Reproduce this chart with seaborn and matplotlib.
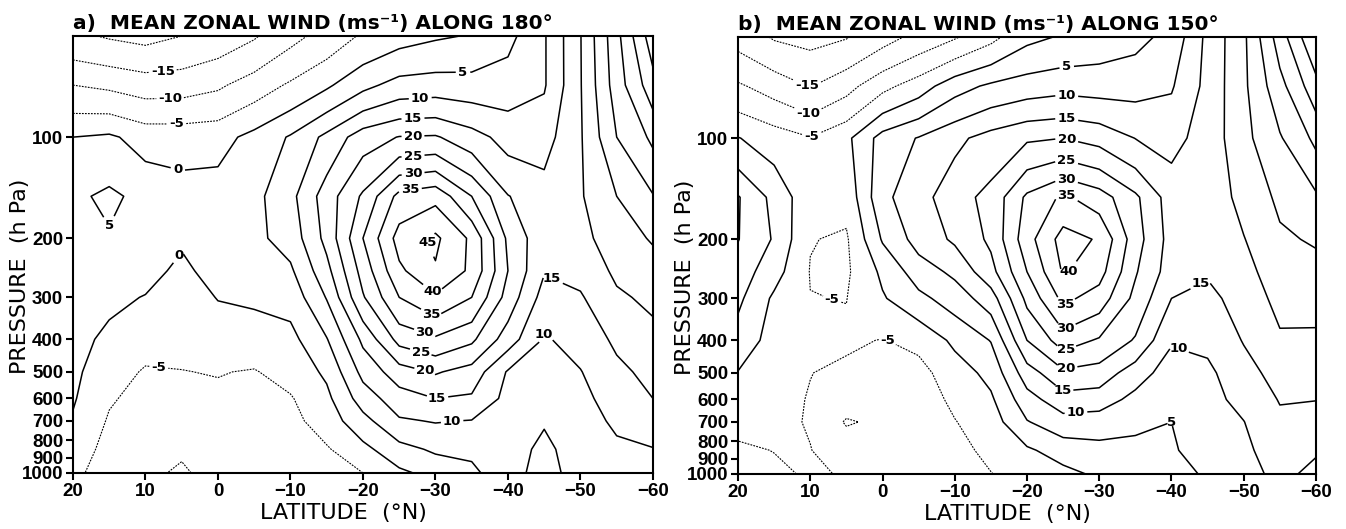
"""Mean zonal wind cross-sections (two panels) redrawn with seaborn/matplotlib."""
import numpy as np
import matplotlib
matplotlib.use("Agg")
import matplotlib.pyplot as plt
from matplotlib.ticker import FixedLocator, FixedFormatter, NullLocator
import seaborn as sns

# grid: latitude columns, pressure rows (hPa)
lats = [20, 15, 10, 5, 0, -5, -10, -15, -20, -25, -30, -35, -40, -45, -50, -55, -60]
levels_hpa = [50, 70, 100, 150, 200, 250, 300, 400, 500, 600, 700, 850, 1000]

# zonal wind (m/s) along 180 deg, one row per pressure level
wind_180 = [
    [-19, -20.5, -21.5, -20, -18, -15.5, -11.5, -8.2, -4.3, -2, -0.6, 0.3, 3.5, 9.5, 19.8, 33.5, 48],
    [-10, -11, -12.4, -12.2, -10.8, -7.7, -4.3, -0.8, 3.6, 6.8, 7.3, 7, 7.4, 9.5, 19.7, 32.5, 43],
    [0, 0.8, -2, -2.1, -1.8, 1.5, 5.5, 11.3, 17.7, 20.2, 20.5, 17, 13.1, 13, 19.5, 30, 36],
    [4, 6, 3.5, 2, 2.2, 3.6, 8.5, 17.5, 25.8, 36.6, 38.5, 30, 20.2, 17, 19.5, 25, 29.7],
    [4.3, 4.5, 3, 0.6, 2.5, 3.8, 7, 16.5, 30, 42, 46, 39, 24, 16.5, 18.5, 22.7, 25.5],
    [3, 2.5, 1.5, -1, 1.8, 3, 4.2, 13.4, 27, 39, 44.5, 39, 25, 15.3, 16.5, 21, 23],
    [2.5, 1, -0.2, -2.3, 0.2, 0.8, 1.8, 10.3, 24.5, 35, 39.2, 35, 23, 13, 14.5, 19.2, 21.1],
    [1.5, -1, -3, -3.8, -2.6, -2.3, -1.5, 4.7, 16.1, 26.7, 29.2, 26, 17.5, 9.5, 11.8, 16, 18.5],
    [1, -2.8, -5.5, -5.1, -4.8, -5.3, -3.2, 0.9, 11.5, 17.7, 20.5, 18, 9.5, 9.2, 9.8, 13.8, 16.5],
    [0.5, -4.5, -6.5, -6, -5.8, -6.2, -5.4, -1.2, 7.4, 12.8, 15, 14.3, 8.5, 9, 8.8, 12, 15],
    [-0.5, -5.5, -7, -6.5, -6.2, -6.5, -6.5, -2.6, 3.3, 9.4, 10.3, 9.8, 8.5, 9.7, 8.3, 10.7, 12.7],
    [-2.5, -6.5, -8, -9, -6.7, -6.8, -6.5, -5.5, -1.4, 3.3, 5.8, 6.2, 8.5, 10.8, 8.3, 9.3, 9.8],
    [-4, -7, -8.5, -11, -7.2, -7, -6.5, -6, -5, -1, 1.6, 3.8, 8.5, 11.5, 8.3, 9, 8.5],
]

# zonal wind (m/s) along 150 deg
wind_150 = [
    [-17, -20.5, -21.5, -20.3, -17, -13.5, -10.5, -6.5, -1.3, 0.5, 2, 3.5, 6.5, 16.3, 24, 37.5, 50],
    [-9.3, -12.2, -15.2, -11.8, -6.5, -2.5, 3, 5.9, 7.4, 8.3, 7.9, 8.2, 9.5, 16.5, 24, 33.3, 43.2],
    [0.2, -2.4, -4.7, -1.2, 7, 10.3, 13.8, 16.9, 19.3, 20, 18.3, 14.9, 13.5, 17, 23.5, 29.5, 36.2],
    [10.4, 3.5, -3.5, -3.5, 8.8, 13, 18, 21.5, 31, 35.9, 32.4, 26, 17.5, 17, 21.5, 26, 29.2],
    [10.2, 4.5, -4.8, -5.6, 5.5, 12, 15.8, 21, 33, 42, 39.5, 27.2, 18, 17, 19.8, 24.2, 25.6],
    [7.7, 2, -5.2, -5.8, 1, 7.5, 11.1, 18.3, 30, 40.5, 37, 25.5, 17.5, 15.5, 18.5, 22.5, 23.3],
    [6.1, -0.9, -4.9, -5.1, -0.5, 3.7, 7.3, 12.6, 26.3, 36.3, 32.7, 23.6, 15, 13.7, 17, 21.5, 21.8],
    [2.8, -1.8, -4.3, -4.2, -5.2, -3.8, 1.1, 5.2, 20, 27.5, 24.4, 19.5, 10.5, 11.1, 15.3, 19.3, 19.1],
    [-0.2, -2.8, -4.9, -6, -7, -6.5, -2.5, 1.5, 12.7, 18.9, 17.9, 12.4, 7.5, 9, 13.1, 17, 16.8],
    [-2.1, -3.3, -5.3, -7.5, -8.5, -7.5, -4, -0.8, 8, 13, 12.5, 8.5, 6.5, 8.5, 11.4, 15.3, 15.1],
    [-3.7, -4, -5.3, -10.5, -9, -8, -5.2, -2.4, 4.7, 8, 7.5, 6, 5, 8, 9.9, 14, 13.3],
    [-5.7, -4.9, -4.9, -7, -8, -7.5, -6, -4.2, -0.8, 2.3, 3.5, 3.8, 4.5, 7, 9, 12.5, 10.6],
    [-7, -5.8, -4.5, -5.3, -7, -7, -6.5, -5.1, -3.5, -1.5, 0.9, 2.2, 3.6, 5.5, 8, 11.5, 8.5],
]

contour_levels = list(range(-25, 55, 5))
pressure_ticks = [100, 200, 300, 400, 500, 600, 700, 800, 900, 1000]
lat_ticks = [20, 10, 0, -10, -20, -30, -40, -50, -60]

# where the inline contour labels sit (lat, hPa)
label_spots_180 = [
    (7.6, 66), (6.6, 77.6), (5.7, 92), (5.5, 119.5), (14.5, 193), (6.3, 212), (8, 468),
    (-33.8, 64.5), (-27.9, 76), (-26.9, 86.6), (-26.9, 98), (-26.9, 109), (-26.9, 123),
    (-26.5, 136), (-29, 205), (-29.5, 291), (-29.2, 343), (-28.3, 391), (-27.6, 452),
    (-28.3, 507), (-30.2, 598), (-32.4, 710), (-46.8, 235), (-45.4, 367),
]
label_spots_150 = [
    (10.4, 68), (10.3, 81), (9.8, 95), (7.3, 320), (-1, 394),
    (-25.5, 62), (-25.5, 74.5), (-25.5, 87), (-25.5, 100), (-25.5, 114), (-25.5, 129),
    (-25.5, 145), (-26, 257), (-25.4, 318), (-25.4, 372), (-25.4, 428), (-25.4, 483),
    (-25, 563), (-26.8, 659), (-40.2, 704), (-43.5, 251), (-41.9, 391),
]

sns.set_style("ticks")
plt.rcParams["font.family"] = ["DejaVu Sans"]
plt.rcParams["axes.linewidth"] = 1.5
plt.rcParams["axes.edgecolor"] = "black"
plt.rcParams["text.color"] = "black"
plt.rcParams["axes.labelcolor"] = "black"
plt.rcParams["xtick.color"] = "black"
plt.rcParams["ytick.color"] = "black"


def draw_panel(ax, wind, title, spots):
    u = np.array(wind, dtype=float)
    widths = [0.8 if lv < 0 else 1.1 for lv in contour_levels]
    cs = ax.contour(lats, levels_hpa, u, levels=contour_levels, colors="black",
                    linewidths=widths, negative_linestyles=(0, (1.6, 1.1)))
    texts = ax.clabel(cs, fmt="%d", fontsize=9.5, inline=True, inline_spacing=3,
                      manual=spots)
    for t in texts:
        t.set_rotation(0)
        t.set_fontweight("bold")

    ax.set_yscale("log")
    ax.set_ylim(1000, 50)
    ax.set_xlim(20, -60)
    ax.yaxis.set_major_locator(FixedLocator(pressure_ticks))
    ax.yaxis.set_major_formatter(FixedFormatter([str(p) for p in pressure_ticks]))
    ax.yaxis.set_minor_locator(NullLocator())
    ax.xaxis.set_major_locator(FixedLocator(lat_ticks))
    ax.xaxis.set_major_formatter(FixedFormatter([str(v).replace("-", "\u2212") for v in lat_ticks]))
    ax.tick_params(direction="out", length=5, width=1.5, pad=2)
    for lbl in ax.get_xticklabels() + ax.get_yticklabels():
        lbl.set_fontfamily(["Liberation Sans", "DejaVu Sans"])
        lbl.set_fontweight("bold")
        lbl.set_fontsize(13.5)
    for s in ax.spines.values():
        s.set_visible(True)
        s.set_linewidth(1.5)

    ax.set_title(title, loc="left", fontsize=14.5, fontweight="bold", pad=5)
    ax.set_xlabel("LATITUDE  (\u00b0N)", fontsize=16)
    ax.set_ylabel("PRESSURE  (h Pa)", fontsize=16)
    ax.xaxis.set_label_coords(0.467, -0.069)
    ax.yaxis.set_label_coords(-0.074, 0.45)


fig = plt.figure(figsize=(13.46, 5.29), dpi=100)
ax_a = fig.add_axes([0.0542, 0.1059, 0.4309, 0.826])
ax_b = fig.add_axes([0.5483, 0.104, 0.4294, 0.826])

draw_panel(ax_a, wind_180, "a)  MEAN ZONAL WIND (ms\u207b\u00b9) ALONG 180\u00b0", label_spots_180)
draw_panel(ax_b, wind_150, "b)  MEAN ZONAL WIND (ms\u207b\u00b9) ALONG 150\u00b0", label_spots_150)

fig.savefig("out.png", dpi=100, facecolor="white")
